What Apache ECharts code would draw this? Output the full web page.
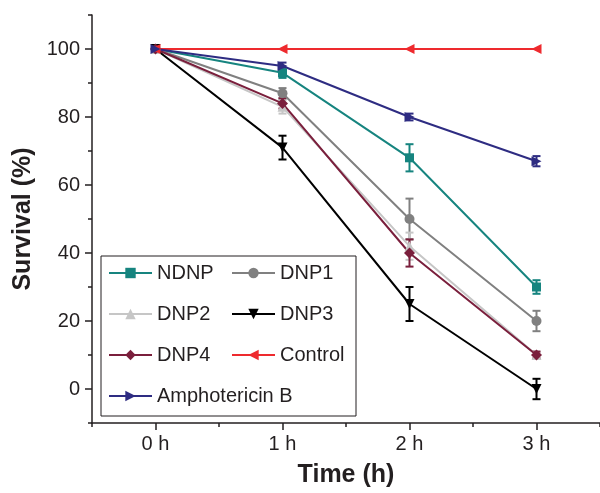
<!DOCTYPE html>
<html><head><meta charset="utf-8">
<script src="https://cdn.jsdelivr.net/npm/echarts@6/dist/echarts.min.js"></script>
<style>html,body{margin:0;padding:0;background:#fff}#c{width:600px;height:493px}</style>
</head><body><div id="c"></div>
<script>
const hours = [0, 1, 2, 3];
const xTickLabels = ['0 h', '1 h', '2 h', '3 h'];
const yTickLabels = [0, 20, 40, 60, 80, 100];

const ndnp = [100, 93, 68, 30];
const ndnpErr = [0, 1.5, 4, 2];
const dnp1 = [100, 87, 50, 20];
const dnp1Err = [0, 1.5, 6, 3];
const dnp2 = [100, 83, 42, 10];
const dnp2Err = [0, 2, 4, 1];
const dnp3 = [100, 71, 25, 0];
const dnp3Err = [0, 3.5, 5, 3];
const dnp4 = [100, 84, 40, 10];
const dnp4Err = [0, 1.5, 4, 1];
const control = [100, 100, 100, 100];
const controlErr = [0, 0, 0, 0];
const amph = [100, 95, 80, 67];
const amphErr = [0, 1, 1, 1.5];

const FONT = 'Liberation Sans, Arial, Helvetica, sans-serif';
const TXT = '#231f20';

const defs = [
  {name: 'NDNP', data: ndnp, err: ndnpErr, color: '#16847f', symbol: 'rect', size: 9, rot: 0},
  {name: 'DNP1', data: dnp1, err: dnp1Err, color: '#808080', symbol: 'circle', size: 10, rot: 0},
  {name: 'DNP2', data: dnp2, err: dnp2Err, color: '#c6c6c6', symbol: 'triangle', size: 10, rot: 0},
  {name: 'DNP3', data: dnp3, err: dnp3Err, color: '#000000', symbol: 'triangle', size: 10, rot: 180},
  {name: 'DNP4', data: dnp4, err: dnp4Err, color: '#7a1f3c', symbol: 'diamond', size: 11, rot: 0},
  {name: 'Control', data: control, err: controlErr, color: '#ee2a2e', symbol: 'triangle', size: 10, rot: 90},
  {name: 'Amphotericin B', data: amph, err: amphErr, color: '#2e2c82', symbol: 'triangle', size: 10, rot: -90}
];

function errRender(color) {
  return function (params, api) {
    const x = api.value(0), y = api.value(1), e = api.value(2);
    if (!e) return null;
    const hi = api.coord([x, y + e]);
    const lo = api.coord([x, y - e]);
    const w = 4;
    const st = {stroke: color, lineWidth: 2};
    return {type: 'group', children: [
      {type: 'line', shape: {x1: hi[0], y1: hi[1], x2: lo[0], y2: lo[1]}, style: st},
      {type: 'line', shape: {x1: hi[0] - w, y1: hi[1], x2: hi[0] + w, y2: hi[1]}, style: st},
      {type: 'line', shape: {x1: lo[0] - w, y1: lo[1], x2: lo[0] + w, y2: lo[1]}, style: st}
    ]};
  };
}

const series = [];
defs.forEach(d => {
  series.push({
    name: d.name + ' err', type: 'custom', renderItem: errRender(d.color), silent: true,
    data: hours.map((h, i) => [h, d.data[i], d.err[i]]), z: 2
  });
});
defs.forEach(d => {
  series.push({
    name: d.name, type: 'line', data: hours.map((h, i) => [h, d.data[i]]),
    symbol: d.symbol, symbolSize: d.size, symbolRotate: d.rot,
    lineStyle: {color: d.color, width: 2}, itemStyle: {color: d.color},
    showAllSymbol: true, animation: false, z: 3
  });
});

const chart = echarts.init(document.getElementById('c'));
const legendCommon = {
  orient: 'vertical', itemWidth: 43, itemHeight: 13, itemGap: 21, padding: 0,
  textStyle: {fontSize: 20, fontFamily: FONT, color: TXT, lineHeight: 20},
  selectedMode: false
};
chart.setOption({
  animation: false,
  grid: {left: 92, right: 0, top: 15, bottom: 69, containLabel: false},
  xAxis: [{
    type: 'value', min: -0.5, max: 3.5, position: 'bottom',
    name: 'Time (h)', nameLocation: 'middle', nameGap: 40,
    nameTextStyle: {fontSize: 25, fontWeight: 'bold', fontFamily: FONT, color: TXT},
    axisLine: {show: true, onZero: false, lineStyle: {color: TXT, width: 1.5}},
    axisTick: {show: true, customValues: hours, length: 7, lineStyle: {color: TXT, width: 1.5}},
    axisLabel: {customValues: hours, formatter: v => xTickLabels[hours.indexOf(v)] || '', fontSize: 20, fontFamily: FONT, color: TXT, margin: 11},
    splitLine: {show: false}
  }, {
    type: 'value', min: -0.5, max: 3.5, position: 'bottom',
    axisLine: {show: false, onZero: false},
    axisTick: {show: true, customValues: [-0.5, 0.5, 1.5, 2.5, 3.5], length: 4, lineStyle: {color: TXT, width: 1.5}},
    axisLabel: {show: false}, splitLine: {show: false}
  }],
  yAxis: [{
    type: 'value', min: -10, max: 110, position: 'left',
    name: 'Survival (%)', nameLocation: 'middle', nameGap: 54,
    nameTextStyle: {fontSize: 25, fontWeight: 'bold', fontFamily: FONT, color: TXT},
    axisLine: {show: true, onZero: false, lineStyle: {color: TXT, width: 1.5}},
    axisTick: {show: true, customValues: yTickLabels, length: 7, lineStyle: {color: TXT, width: 1.5}},
    axisLabel: {customValues: yTickLabels, fontSize: 20, fontFamily: FONT, color: TXT, margin: 12},
    splitLine: {show: false}
  }, {
    type: 'value', min: -10, max: 110, position: 'left',
    axisLine: {show: false, onZero: false},
    axisTick: {show: true, customValues: [-10, 10, 30, 50, 70, 90, 110], length: 4, lineStyle: {color: TXT, width: 1.5}},
    axisLabel: {show: false}, splitLine: {show: false}
  }],
  legend: [
    Object.assign({left: 108, top: 263, data: ['NDNP', 'DNP2', 'DNP4', 'Amphotericin B']}, legendCommon),
    Object.assign({left: 231, top: 263, data: ['DNP1', 'DNP3', 'Control']}, legendCommon)
  ],
  graphic: [{
    type: 'rect', shape: {x: 101, y: 256, width: 255, height: 160},
    style: {fill: '#fff', stroke: TXT, lineWidth: 1}, z: 3
  }],
  series: series
});
</script></body></html>
